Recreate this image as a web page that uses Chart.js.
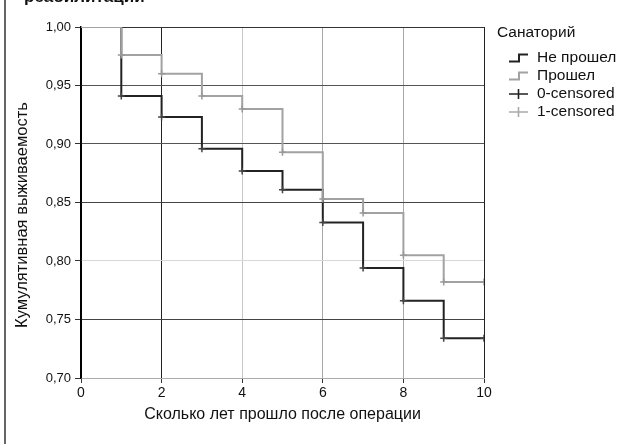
<!DOCTYPE html>
<html>
<head>
<meta charset="utf-8">
<script src="https://cdn.jsdelivr.net/npm/chart.js@4/dist/chart.umd.min.js"></script>
<style>
    body { margin: 0; background: #fff; font-family: "Liberation Sans", Arial, sans-serif; }
    .wrap { position: relative; width: 631px; height: 444px; overflow: hidden; }
    .frame-left { position: absolute; left: 4px; top: 0; width: 2px; height: 444px; background: #666; }
    .cut-title { position: absolute; left: 24px; top: -12px; font-size: 17px; line-height: 17px; font-weight: bold; color: #111; }
    .y-title { position: absolute; left: -139px; top: 205px; width: 320px; height: 20px; line-height: 20px;
               text-align: center; font-size: 16.5px; color: #111; transform: rotate(-90deg); white-space: nowrap; }
    .legend { position: absolute; left: 497px; top: 22px; font-size: 15.5px; color: #111; }
    .legend .head { height: 20px; line-height: 20px; }
    .legend .item { position: absolute; left: 11px; height: 18px; line-height: 18px; white-space: nowrap; }
    .legend svg { position: absolute; left: 0; top: 4px; }
    .legend span { position: absolute; left: 29px; top: 0; }
</style>
</head>
<body>
<div class="wrap">
    <canvas id="km" width="631" height="444"></canvas>
    <div class="frame-left"></div>
    <div class="cut-title">реабилитации</div>
    <div class="y-title" id="yTitle"></div>
    <div class="legend" id="legend"></div>
</div>
<script>
const years = [0, 1, 2, 3, 4, 5, 6, 7, 8, 9, 10];
const notPassed = [1.000, 0.941, 0.923, 0.896, 0.877, 0.861, 0.833, 0.794, 0.766, 0.734, 0.734];
const passed = [1.000, 0.976, 0.960, 0.941, 0.930, 0.893, 0.853, 0.841, 0.805, 0.782, 0.782];
const censorYears = [1, 2, 3, 4, 5, 6, 7, 8, 9, 10];
const xTicks = [0, 2, 4, 6, 8, 10];
const yTicks = [0.70, 0.75, 0.80, 0.85, 0.90, 0.95, 1.00];
const legendTitle = 'Санаторий';
const seriesNames = ['Не прошел', 'Прошел', '0-censored', '1-censored'];
const xTitle = 'Сколько лет прошло после операции';
const yTitle = 'Кумулятивная выживаемость';

const DARK = '#222';
const LIGHT = '#a2a2a2';

const xGridColors = { 0: '#000', 2: '#222', 4: '#c8c8c8', 6: '#a8a8a8', 8: '#a8a8a8', 10: '#222' };
const yGridColors = { '0.70': '#aaa', '0.75': '#444', '0.80': '#d8d8d8', '0.85': '#444', '0.90': '#555', '0.95': '#555', '1.00': '#333' };

function toPoints(xs, ys) {
    return xs.map((x, i) => ({ x, y: ys[i] }));
}

function censorPoints(series) {
    return censorYears.map((x) => ({ x, y: series[years.indexOf(x)] }));
}

function comma(v) {
    return Number(v).toFixed(2).replace('.', ',');
}

const chart = new Chart(document.getElementById('km'), {
    type: 'scatter',
    data: {
        datasets: [
            { label: seriesNames[0], data: toPoints(years, notPassed), showLine: true, stepped: 'before',
              borderColor: DARK, borderWidth: 2, pointRadius: 0, order: 3 },
            { label: seriesNames[1], data: toPoints(years, passed), showLine: true, stepped: 'before',
              borderColor: LIGHT, borderWidth: 2, pointRadius: 0, order: 2 },
            { label: seriesNames[2], data: censorPoints(notPassed), showLine: false, pointStyle: 'cross',
              pointRadius: 3.5, borderColor: '#444', borderWidth: 1.5, order: 1 },
            { label: seriesNames[3], data: censorPoints(passed), showLine: false, pointStyle: 'cross',
              pointRadius: 3.5, borderColor: '#999', borderWidth: 1.5, order: 0 },
        ],
    },
    options: {
        responsive: false,
        animation: false,
        devicePixelRatio: 1,
        layout: { padding: { left: 0, right: 147, top: 27, bottom: 0 } },
        plugins: { legend: { display: false }, tooltip: { enabled: false } },
        scales: {
            x: {
                type: 'linear',
                min: 0,
                max: 10,
                afterFit: (scale) => { scale.height = 66; },
                afterBuildTicks: (scale) => { scale.ticks = xTicks.map((value) => ({ value })); },
                ticks: { color: '#111', padding: 2, font: { family: 'Liberation Sans', size: 14 } },
                grid: {
                    color: (ctx) => xGridColors[ctx.tick && ctx.tick.value] || '#999',
                    lineWidth: 1,
                    tickLength: 5,
                    tickColor: '#333',
                },
                border: { display: true, color: '#aaa', width: 1 },
                title: {
                    display: true,
                    text: xTitle,
                    color: '#111',
                    font: { family: 'Liberation Sans', size: 16 },
                    padding: { top: 0, bottom: 20 },
                },
            },
            y: {
                min: 0.70,
                max: 1.00,
                afterFit: (scale) => { scale.width = 81; },
                afterBuildTicks: (scale) => { scale.ticks = yTicks.map((value) => ({ value })); },
                ticks: {
                    color: '#111',
                    padding: 4,
                    font: { family: 'Liberation Sans', size: 13 },
                    callback: (value) => comma(value),
                },
                grid: {
                    color: (ctx) => yGridColors[ctx.tick ? comma(ctx.tick.value).replace(',', '.') : ''] || '#999',
                    lineWidth: 1,
                    tickLength: 6,
                    tickColor: '#333',
                },
                border: { display: true, color: '#000', width: 1.5 },
            },
        },
    },
});

document.getElementById('yTitle').textContent = yTitle;

// legend with step / cross icons
function stepIcon(color) {
    return `<svg width="22" height="12"><path d="M1 9.5 H11 V2.5 H20" fill="none" stroke="${color}" stroke-width="2"/></svg>`;
}
function crossIcon(color) {
    return `<svg width="22" height="12"><path d="M1 6 H20 M10.5 1 V11" fill="none" stroke="${color}" stroke-width="1.6"/></svg>`;
}
const legendIcons = [stepIcon(DARK), stepIcon(LIGHT), crossIcon(DARK), crossIcon('#aaa')];
const legendTops = [26, 44, 62, 80];
const legendEl = document.getElementById('legend');
legendEl.innerHTML = `<div class="head">${legendTitle}</div>` + seriesNames.map((name, i) =>
    `<div class="item" style="top:${legendTops[i]}px">${legendIcons[i]}<span>${name}</span></div>`).join('');
</script>
</body>
</html>
